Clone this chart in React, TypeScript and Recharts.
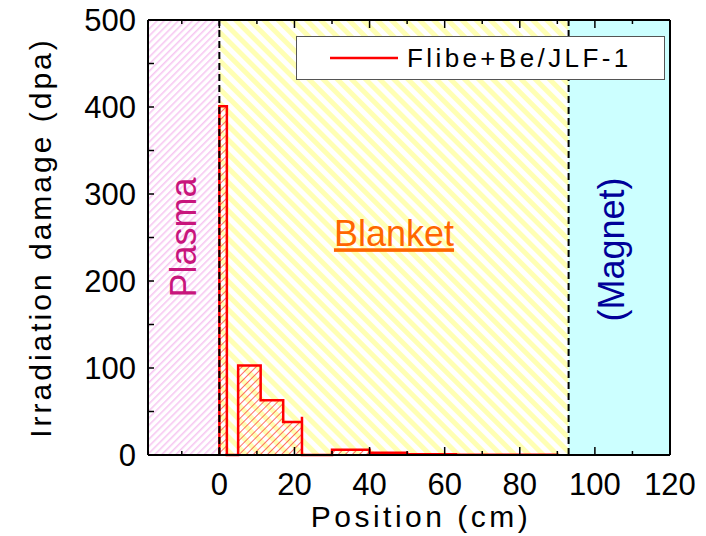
import React from "react";
import {
  ComposedChart,
  Area,
  XAxis,
  YAxis,
  ReferenceArea,
  ReferenceLine,
  Legend,
} from "recharts";

// histogram edges (cm) and damage (dpa), drawn as a step outline
const positionCm = [0, 0, 2, 5, 11, 17, 22, 22, 30, 40, 50, 63, 90];
const damageDpa = [0, 401, 0, 103, 63, 38, 44, 0, 6, 2.5, 1, 0.3, 0];

const xTicks = [-10, 0, 10, 20, 30, 40, 50, 60, 70, 80, 90, 100, 110, 120];
const yTicks = [0, 50, 100, 150, 200, 250, 300, 350, 400, 450, 500];

const regionEdges = [-19, 0, 93, 120];
const regionNames = ["Plasma", "Blanket", "(Magnet)"];
const seriesName = "Flibe+Be/JLF-1";
const xTitle = "Position (cm)";
const yTitle = "Irradiation damage (dpa)";

const FONT = "'Liberation Sans', Arial, sans-serif";

const data = positionCm.map((x, i) => ({ x, dpa: damageDpa[i] }));

function BottomTick({ x, y, payload }: any) {
  const v = payload.value;
  const major = v % 20 === 0;
  return (
    <g>
      <line x1={x} y1={y} x2={x} y2={y - (major ? 8 : 4)} stroke="#000" strokeWidth={1.5} />
      {major && v >= 0 && (
        <text x={x} y={y + 40} textAnchor="middle" fontSize={31} fontFamily={FONT} fill="#000">
          {v}
        </text>
      )}
    </g>
  );
}

function TopTick({ x, y, payload }: any) {
  const major = payload.value % 20 === 0;
  return <line x1={x} y1={y} x2={x} y2={y + (major ? 8 : 4)} stroke="#000" strokeWidth={1.5} />;
}

function LeftTick({ x, y, payload }: any) {
  const v = payload.value;
  return (
    <g>
      <line x1={x} y1={y} x2={x + 6} y2={y} stroke="#000" strokeWidth={1.5} />
      {v % 100 === 0 && (
        <text x={x - 12} y={y + 11} textAnchor="end" fontSize={31} fontFamily={FONT} fill="#000">
          {v}
        </text>
      )}
    </g>
  );
}

function RightTick({ x, y }: any) {
  return <line x1={x} y1={y} x2={x - 6} y2={y} stroke="#000" strokeWidth={1.5} />;
}

// rotated y title, placed inside the left axis box
function YTitle(props: any) {
  const vb = props.viewBox ?? { x: 0, y: 20, width: 148, height: 435 };
  const cx = vb.x + 40;
  const cy = vb.y + vb.height / 2;
  return (
    <text
      x={cx}
      y={cy}
      transform={`rotate(-90, ${cx}, ${cy})`}
      textAnchor="middle"
      dominantBaseline="central"
      fontSize={30}
      fontFamily={FONT}
      letterSpacing={3}
      fill="#000"
    >
      {yTitle}
    </text>
  );
}

function LegendBox({ payload }: any) {
  const label = payload?.[0]?.value ?? seriesName;
  return (
    <div
      style={{
        width: 369,
        height: 44,
        boxSizing: "border-box",
        border: "1.5px solid #555",
        background: "#fff",
        display: "flex",
        alignItems: "center",
      }}
    >
      <svg width={110} height={10} style={{ display: "block" }}>
        <line x1={33} y1={5} x2={101} y2={5} stroke="#ff0000" strokeWidth={2.5} />
      </svg>
      <span style={{ fontFamily: FONT, fontSize: 26, letterSpacing: 3.4, color: "#000" }}>{label}</span>
    </div>
  );
}

export default function App() {
  return (
    <div style={{ position: "absolute", left: 0, top: 0 }}>
      <ComposedChart
        width={706}
        height={536}
        data={data}
        margin={{ top: 19, right: 35, bottom: 0, left: 0 }}
      >
        <defs>
          <pattern id="pinkHatch" patternUnits="userSpaceOnUse" width={5} height={5} patternTransform="rotate(45)">
            <rect x={0} y={0} width={1.6} height={5} fill="#f7c8f2" />
          </pattern>
          <pattern id="yellowHatch" patternUnits="userSpaceOnUse" width={10} height={10} patternTransform="rotate(-45)">
            <rect x={0} y={0} width={5} height={10} fill="#ffffb4" />
          </pattern>
          <pattern id="redHatch" patternUnits="userSpaceOnUse" width={5} height={5} patternTransform="rotate(45)">
            <line x1={0} y1={0} x2={0} y2={5} stroke="#ff2020" strokeWidth={1.3} />
          </pattern>
        </defs>

        <XAxis
          xAxisId="bottom"
          dataKey="x"
          type="number"
          domain={[regionEdges[0], regionEdges[3]]}
          ticks={xTicks}
          allowDataOverflow
          height={81}
          tickSize={0}
          tickMargin={0}
          tickLine={false}
          tick={<BottomTick />}
          axisLine={{ stroke: "#000", strokeWidth: 2 }}
          interval={0}
          label={{
            value: xTitle,
            position: "center",
            dx: 12,
            dy: 21,
            fontSize: 30,
            fontFamily: FONT,
            fill: "#000",
            letterSpacing: 3.5,
          }}
        />
        <XAxis
          xAxisId="top"
          orientation="top"
          dataKey="x"
          type="number"
          domain={[regionEdges[0], regionEdges[3]]}
          ticks={xTicks}
          allowDataOverflow
          height={1}
          tickSize={0}
          tickMargin={0}
          tickLine={false}
          tick={<TopTick />}
          axisLine={{ stroke: "#000", strokeWidth: 2 }}
          interval={0}
        />
        <YAxis
          yAxisId="left"
          type="number"
          domain={[0, 500]}
          ticks={yTicks}
          width={148}
          tickSize={0}
          tickMargin={0}
          tickLine={false}
          tick={<LeftTick />}
          axisLine={{ stroke: "#000", strokeWidth: 2 }}
          interval={0}
          label={<YTitle />}
        />
        <YAxis
          yAxisId="right"
          orientation="right"
          type="number"
          domain={[0, 500]}
          ticks={yTicks}
          width={1}
          tickSize={0}
          tickMargin={0}
          tickLine={false}
          tick={<RightTick />}
          axisLine={{ stroke: "#000", strokeWidth: 2 }}
          interval={0}
        />

        <ReferenceArea
          xAxisId="bottom"
          yAxisId="left"
          x1={regionEdges[0]}
          x2={regionEdges[1]}
          y1={0}
          y2={500}
          fill="url(#pinkHatch)"
          fillOpacity={1}
          stroke="none"
          label={{
            value: regionNames[0],
            position: "center",
            angle: -90,
            fontSize: 36,
            fontFamily: FONT,
            fill: "#c8157c",
          }}
        />
        <ReferenceArea
          xAxisId="bottom"
          yAxisId="left"
          x1={regionEdges[1]}
          x2={regionEdges[2]}
          y1={0}
          y2={500}
          fill="url(#yellowHatch)"
          fillOpacity={1}
          stroke="none"
          label={{
            value: regionNames[1],
            position: "center",
            dy: -4,
            fontSize: 36,
            fontFamily: FONT,
            fill: "#ff6600",
            textDecoration: "underline",
          }}
        />
        <ReferenceArea
          xAxisId="bottom"
          yAxisId="left"
          x1={regionEdges[2]}
          x2={regionEdges[3]}
          y1={0}
          y2={500}
          fill="#ccffff"
          fillOpacity={1}
          stroke="none"
          label={{
            value: regionNames[2],
            position: "center",
            angle: -90,
            dx: -8,
            dy: 12,
            fontSize: 36,
            fontFamily: FONT,
            fill: "#000099",
          }}
        />
        <ReferenceLine
          xAxisId="bottom"
          yAxisId="left"
          x={regionEdges[1]}
          stroke="#000"
          strokeWidth={2}
          strokeDasharray="7 4"
        />
        <ReferenceLine
          xAxisId="bottom"
          yAxisId="left"
          x={regionEdges[2]}
          stroke="#000"
          strokeWidth={2}
          strokeDasharray="7 4"
        />

        <Area
          xAxisId="bottom"
          yAxisId="left"
          type="stepAfter"
          dataKey="dpa"
          name={seriesName}
          stroke="#ff0000"
          strokeWidth={2.5}
          fill="url(#redHatch)"
          fillOpacity={1}
          dot={false}
          activeDot={false}
          legendType="line"
          isAnimationActive={false}
        />

        <Legend
          layout="vertical"
          align="center"
          verticalAlign="middle"
          wrapperStyle={{ top: 36, left: 296, width: 369, height: 44 }}
          content={<LegendBox />}
        />
      </ComposedChart>
    </div>
  );
}
